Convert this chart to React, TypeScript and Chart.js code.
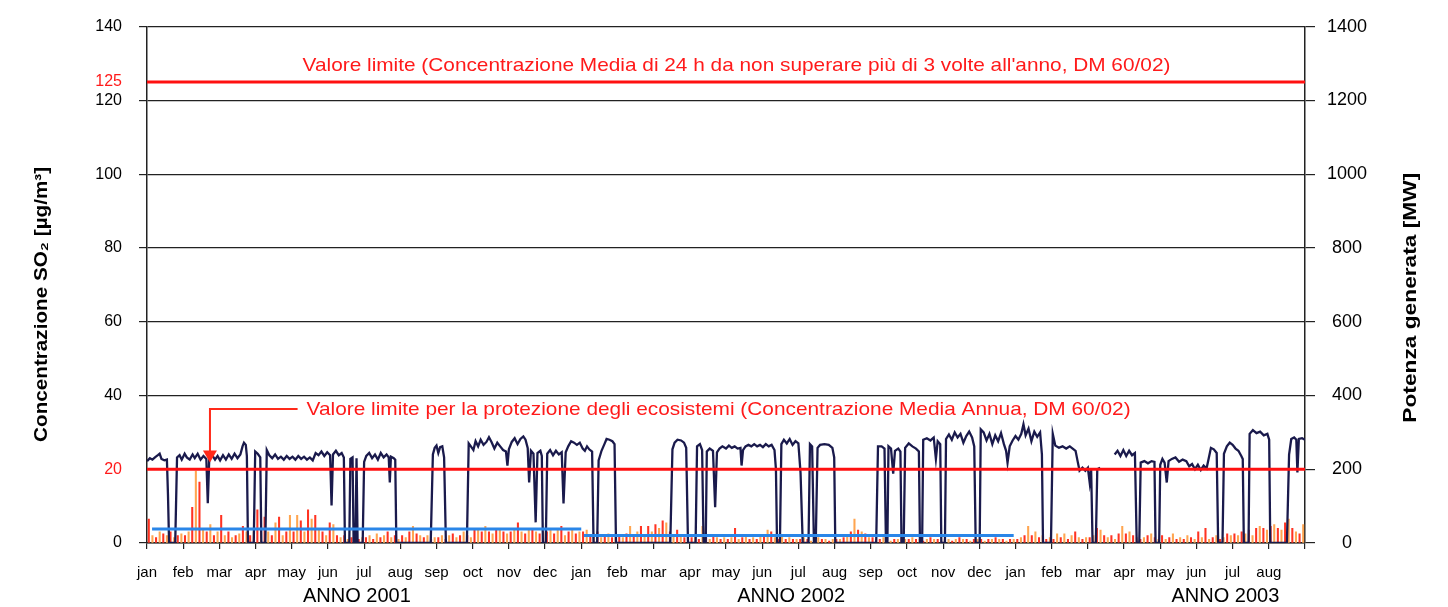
import React, { useEffect, useRef } from "react";
import { Chart, registerables } from "chart.js";

Chart.register(...registerables);

const FONT = 'Arial, "Liberation Sans", Helvetica, sans-serif';

// ---- axis / label data ----
const monthNames = ["jan", "feb", "mar", "apr", "may", "jun", "jul", "aug", "sep", "oct", "nov", "dec"];
const monthTickLabels = [...monthNames, ...monthNames, ...monthNames.slice(0, 8), ""];
const yearLabels = ["ANNO 2001", "ANNO 2002", "ANNO 2003"];
const yearLabelPositions = [5.8, 17.8, 29.8];
const so2Ticks = [0, 20, 40, 60, 80, 100, 120, 125, 140];
const powerTicks = [0, 200, 400, 600, 800, 1000, 1200, 1400];

// ---- reference values ----
const limit24h = 125;
const limitAnnual = 20;
const limit24hText =
  "Valore limite (Concentrazione Media di 24 h da non superare più di 3 volte all'anno, DM 60/02)";
const limitAnnualText =
  "Valore limite per la protezione degli ecosistemi (Concentrazione Media Annua, DM 60/02)";
const leftTitle = "Concentrazione SO₂ [µg/m³]";
const rightTitle = "Potenza generata [MW]";

// annotation spans in month units (start, end)
const limit24hTextSpan = [4.3, 28.28];
const limitAnnualTextSpan = [4.41, 27.18];

// annual mean SO2 (blue), per year: start month, end month, value
const annualMeanStart = [0.14, 12.07];
const annualMeanEnd = [12.0, 23.95];
const annualMeanValue = [3.8, 2.0];

// arrow annotation (month position, level, tip level) in data units
const arrowMonth = 1.74;
const arrowLevel = 36.3;
const arrowTipLevel = 21.8;

// ---- SO2 daily concentration (10 samples per month) ----
const so2Daily2001 = [
  6.5, 2, 1.5, 3, 2.5, 2, 3, 1.5, 2, 2.5,
  2, 3, 9.7, 19.5, 16.5, 4, 3, 5, 2, 3,
  7.5, 2, 3, 1.5, 2, 2.5, 4.5, 3, 2, 3,
  9, 11.5, 7, 3, 2, 5.5, 7, 2, 3, 7.5,
  3, 7.5, 6, 3, 9, 6.5, 7.5, 4, 3, 2,
  5.5, 5, 2, 1.5, 2, 1, 1.5, 2, 1, 1.5,
  1.5, 2, 1, 2.5, 1.5, 2, 3, 1.5, 2, 1,
  2, 1.5, 3, 4.5, 2.5, 2, 1.5, 2, 1, 1.5,
  1.5, 2, 1, 2, 2.5, 1.5, 2, 3, 2, 1.5,
  3.5, 4, 3, 4.5, 3, 2.5, 4, 3.5, 3, 2.5,
  3, 4, 5.5, 3, 2.5, 3.5, 4, 3, 2.5, 3,
  3, 4, 2.5, 3.5, 4.5, 2, 3, 3.5, 2.5, 3,
];
const so2Daily2002 = [
  3, 3.5, 2, 2.5, 3, 1.5, 2, 2.5, 1.5, 2,
  2, 1.5, 2.5, 4.5, 2, 3, 4.5, 2, 4.5, 3,
  5, 4, 6, 5.5, 3, 2, 3.5, 2, 1.5, 2,
  1.5, 2, 1, 4.5, 1.5, 1, 2, 1.5, 1, 1.5,
  1, 1.5, 4, 1, 1.5, 2, 1, 1.5, 1, 2,
  2, 3.5, 3, 1.5, 1, 2, 1, 1.5, 1, 1,
  1, 1.5, 1, 0.5, 1, 1.5, 1, 1, 0.5, 1,
  1, 1, 1.5, 2, 3, 6.5, 3.5, 3, 2.5, 1.5,
  1.5, 1, 1, 1.5, 1, 0.5, 1, 1, 1.5, 1,
  1, 1.5, 1, 1, 0.5, 1, 1.5, 1, 1, 0.5,
  1, 1, 0.5, 1, 1.5, 1, 1, 0.5, 1, 1,
  1, 0.5, 1, 1, 1.5, 1, 1, 0.5, 1, 1,
];
const so2Daily2003 = [
  1, 1.5, 2, 4.5, 2, 3, 1.5, 2, 1, 1.5,
  1, 2.5, 1.5, 2.5, 1, 2, 3, 1.5, 1, 1.5,
  1.5, 2, 4, 3.5, 2, 1.5, 2, 1, 2.5, 4.5,
  2.5, 3, 2, 1.5, 1, 1.5, 2, 2.5, 1.5, 1,
  2, 1, 1.5, 2.5, 1, 1.5, 1, 2, 1.5, 1,
  3, 1.5, 4, 1, 1.5, 2, 1, 1.5, 2.5, 2,
  2.5, 2, 3, 2.5, 3.5, 2, 4, 4.5, 4, 3.5,
  4.5, 5, 4, 3.5, 5.5, 6.5, 4, 3, 2.5, 5,
];
const so2SamplesPerMonth = 10;

// ---- generated power [month since jan 2001, MW] ----
const powerSeries: [number, number | null][] = [
  [0.0, 222], [0.08, 230], [0.15, 226], [0.22, 232], [0.3, 238], [0.35, 242], [0.4, 228], [0.48, 224], [0.55, 226],
  [0.58, 130], [0.61, 0], [0.78, 0], [0.83, 232],
  [0.9, 238], [0.96, 226], [1.04, 242], [1.1, 232], [1.18, 226], [1.26, 240], [1.32, 230], [1.4, 242], [1.48, 226],
  [1.56, 236], [1.64, 228], [1.68, 108], [1.72, 228], [1.8, 238], [1.88, 226], [1.95, 236],
  [2.02, 224], [2.1, 238], [2.18, 226], [2.26, 240], [2.34, 228], [2.42, 242], [2.5, 230], [2.58, 240], [2.64, 262],
  [2.68, 272], [2.73, 266], [2.76, 236], [2.79, 0], [2.95, 0], [2.99, 248], [3.06, 242], [3.13, 232], [3.16, 0],
  [3.27, 0], [3.31, 252],
  [3.38, 238], [3.46, 230], [3.54, 240], [3.62, 228], [3.7, 234], [3.78, 226], [3.86, 236], [3.94, 228], [4.02, 234],
  [4.1, 226], [4.18, 236], [4.26, 228], [4.34, 234], [4.42, 226], [4.5, 232], [4.58, 224],
  [4.66, 244], [4.74, 238], [4.82, 248], [4.9, 236], [4.98, 246], [5.06, 238], [5.1, 102], [5.14, 240], [5.22, 250],
  [5.3, 238], [5.38, 244], [5.44, 232], [5.47, 0], [5.59, 0], [5.62, 228], [5.68, 232], [5.71, 0], [5.76, 0],
  [5.79, 230], [5.82, 0], [5.96, 0],
  [6.0, 220], [6.06, 236], [6.14, 244], [6.22, 230], [6.3, 240], [6.38, 226], [6.46, 244], [6.54, 232], [6.62, 240],
  [6.68, 232], [6.71, 164], [6.74, 234], [6.82, 230], [6.86, 226], [6.89, 0],
  [7.84, 0], [7.9, 240], [7.95, 258], [8.0, 264], [8.05, 244], [8.1, 260], [8.16, 262], [8.21, 232], [8.26, 0],
  [8.84, 0], [8.89, 270], [8.95, 262], [9.02, 252], [9.08, 276], [9.15, 262], [9.22, 280], [9.3, 266], [9.38, 274],
  [9.45, 287], [9.52, 274], [9.6, 256], [9.68, 272], [9.76, 262], [9.84, 252], [9.92, 248], [9.96, 210], [10.0, 254],
  [10.08, 274], [10.16, 284], [10.24, 268], [10.32, 282], [10.4, 289], [10.46, 280], [10.52, 258], [10.56, 164],
  [10.61, 250], [10.68, 242], [10.74, 56], [10.79, 244], [10.87, 250], [10.91, 236], [10.94, 0], [11.02, 0],
  [11.06, 242], [11.14, 252], [11.22, 238], [11.3, 250], [11.38, 240], [11.46, 246], [11.51, 107], [11.57, 246],
  [11.64, 262], [11.72, 276], [11.8, 272], [11.88, 266], [11.96, 272],
  [12.04, 256], [12.1, 250], [12.16, 262], [12.22, 254], [12.3, 248], [12.34, 0], [12.44, 0], [12.48, 224],
  [12.56, 250], [12.64, 268], [12.7, 282], [12.78, 280], [12.86, 276], [12.92, 268], [12.96, 0],
  [14.46, 0], [14.52, 254], [14.58, 272], [14.66, 280], [14.76, 278], [14.84, 272], [14.9, 258], [14.95, 0],
  [15.16, 0], [15.2, 262], [15.28, 268], [15.34, 252], [15.38, 0], [15.44, 0], [15.47, 248], [15.55, 256],
  [15.64, 250], [15.7, 97], [15.75, 246], [15.82, 256],
  [15.9, 262], [16.0, 256], [16.08, 264], [16.16, 258], [16.24, 262], [16.32, 256], [16.4, 258], [16.43, 210],
  [16.47, 252], [16.54, 262], [16.62, 266], [16.7, 262], [16.78, 268], [16.86, 262], [16.94, 266], [17.02, 260],
  [17.1, 268], [17.18, 262], [17.26, 266], [17.34, 252], [17.38, 200], [17.41, 0], [17.49, 0], [17.53, 268],
  [17.6, 280], [17.68, 270], [17.76, 282], [17.84, 266], [17.92, 276], [18.0, 270], [18.06, 190], [18.12, 0],
  [18.28, 0], [18.32, 268], [18.38, 262], [18.43, 0], [18.48, 0], [18.53, 258], [18.6, 266], [18.72, 268],
  [18.84, 266], [18.94, 258], [18.99, 232], [19.02, 0],
  [20.15, 0], [20.2, 262], [20.3, 262], [20.38, 256], [20.42, 0], [20.46, 0], [20.49, 262], [20.56, 256],
  [20.62, 188], [20.67, 250], [20.76, 256], [20.82, 248], [20.85, 0], [20.91, 0], [20.95, 258], [21.05, 270],
  [21.15, 262], [21.25, 256], [21.33, 248], [21.36, 0], [21.42, 0], [21.45, 280], [21.55, 284], [21.65, 278],
  [21.74, 286], [21.8, 228], [21.85, 276], [21.92, 268], [21.95, 0], [22.05, 0], [22.08, 282], [22.16, 294],
  [22.24, 280], [22.32, 300], [22.4, 286], [22.48, 296], [22.56, 272], [22.64, 290], [22.72, 302], [22.8, 286],
  [22.86, 262], [22.9, 0], [23.01, 0], [23.04, 308], [23.12, 300], [23.2, 278], [23.28, 296], [23.36, 268],
  [23.44, 292], [23.52, 276], [23.6, 298], [23.68, 268], [23.74, 250], [23.78, 218], [23.84, 262], [23.92, 278],
  [24.0, 290], [24.08, 280], [24.16, 296], [24.22, 322], [24.28, 292], [24.36, 310], [24.44, 276], [24.52, 302],
  [24.6, 288], [24.68, 300], [24.73, 240], [24.76, 0], [24.98, 0], [25.03, 296], [25.1, 264], [25.2, 258],
  [25.3, 262], [25.4, 256], [25.5, 262], [25.58, 256], [25.66, 250], [25.72, 220], [25.77, 196], [25.85, 204],
  [25.93, 196], [26.0, 204], [26.05, 164], [26.09, 200], [26.13, 0], [26.22, 0], [26.26, 200], [26.34, 204],
  [26.4, null], [26.74, 240],
  [26.82, 250], [26.9, 236], [26.98, 252], [27.06, 236], [27.14, 250], [27.22, 238], [27.3, 244], [27.35, 0],
  [27.42, 0], [27.46, 218], [27.56, 222], [27.66, 216], [27.76, 222], [27.84, 220], [27.87, 0], [27.97, 0],
  [28.0, 212], [28.06, 228], [28.12, 218], [28.18, 164], [28.23, 222], [28.32, 228], [28.42, 232], [28.52, 220],
  [28.62, 226], [28.72, 222], [28.8, 208], [28.88, 214], [28.96, 200], [29.04, 212], [29.12, 198], [29.2, 210],
  [29.28, 202], [29.34, 230], [29.4, 258], [29.48, 254], [29.56, 244], [29.6, 0], [29.72, 0], [29.76, 242],
  [29.84, 262], [29.92, 272], [30.0, 266], [30.08, 256], [30.16, 250], [30.24, 236], [30.28, 228], [30.31, 0],
  [30.44, 0], [30.47, 296], [30.56, 306], [30.66, 298], [30.76, 302], [30.86, 292], [30.96, 296], [31.01, 280],
  [31.04, 0],
  [31.5, 0], [31.56, 240], [31.62, 282], [31.7, 286], [31.76, 280], [31.79, 191], [31.83, 282], [31.92, 284],
  [32.0, 280],
];

// draw text stretched/condensed along its direction so it covers a target length
function fitText(ctx: any, text: string, cx: number, cy: number, length: number, rotation: number, align: string) {
  const w = ctx.measureText(text).width;
  ctx.save();
  ctx.translate(cx, cy);
  ctx.rotate(rotation);
  ctx.scale(length / w, 1);
  ctx.textAlign = align;
  ctx.fillText(text, 0, 0);
  ctx.restore();
}

const overlayPlugin = {
  id: "overlay",
  afterDraw(chart: any) {
    const { ctx, chartArea, scales } = chart;
    const x = scales.x;
    const y = scales.y;
    ctx.save();
    ctx.textBaseline = "middle";

    // axis titles (both read bottom-to-top)
    ctx.fillStyle = "#000";
    ctx.font = `bold 18px ${FONT}`;
    const plotH = chartArea.bottom - chartArea.top;
    fitText(ctx, leftTitle, 42, chartArea.top + plotH * 0.538, 275, -Math.PI / 2, "center");
    fitText(ctx, rightTitle, 1411, chartArea.top + plotH * 0.525, 250, -Math.PI / 2, "center");

    // limit annotations
    ctx.fillStyle = "#ff1a1a";
    ctx.font = `19px ${FONT}`;
    const t0 = x.getPixelForValue(limit24hTextSpan[0]);
    const t1 = x.getPixelForValue(limit24hTextSpan[1]);
    fitText(ctx, limit24hText, t0, y.getPixelForValue(limit24h) - 16, t1 - t0, 0, "left");

    const ax = x.getPixelForValue(arrowMonth);
    const ay = y.getPixelForValue(arrowLevel);
    const tipY = y.getPixelForValue(arrowTipLevel);
    const l0 = x.getPixelForValue(limitAnnualTextSpan[0]);
    const l1 = x.getPixelForValue(limitAnnualTextSpan[1]);
    fitText(ctx, limitAnnualText, l0, ay + 1, l1 - l0, 0, "left");

    ctx.strokeStyle = "#ff2a1a";
    ctx.lineWidth = 2;
    ctx.beginPath();
    ctx.moveTo(l0 - 9, ay);
    ctx.lineTo(ax, ay);
    ctx.lineTo(ax, tipY - 10);
    ctx.stroke();
    ctx.fillStyle = "#ff2a1a";
    ctx.beginPath();
    ctx.moveTo(ax - 7, tipY - 12);
    ctx.lineTo(ax + 7, tipY - 12);
    ctx.lineTo(ax, tipY);
    ctx.closePath();
    ctx.fill();

    ctx.restore();
  },
};

export default function App() {
  const canvasRef = useRef<HTMLCanvasElement | null>(null);

  useEffect(() => {
    const canvas = canvasRef.current;
    if (!canvas) return;

    const so2All = [...so2Daily2001, ...so2Daily2002, ...so2Daily2003];
    const barData = so2All.map((v, i) => ({ x: (i + 0.5) / so2SamplesPerMonth, y: v }));
    const powerData = powerSeries.map(([t, v]) => ({ x: t, y: v }));
    const meanData: any[] = [];
    annualMeanValue.forEach((v, i) => {
      meanData.push({ x: annualMeanStart[i], y: v });
      meanData.push({ x: annualMeanEnd[i], y: v });
      if (i < annualMeanValue.length - 1) meanData.push({ x: (annualMeanEnd[i] + annualMeanStart[i + 1]) / 2, y: null });
    });

    const gridColor = "#222";
    const isSpecial = (v: number) => v === limit24h || v === limitAnnual;

    const chart = new Chart(canvas, {
      type: "bar",
      data: {
        datasets: [
          {
            type: "line",
            label: "limit24h",
            data: [{ x: 0, y: limit24h }, { x: 32, y: limit24h }],
            borderColor: "#ff1010",
            borderWidth: 3,
            pointRadius: 0,
            yAxisID: "y",
            order: 0,
          } as any,
          {
            type: "line",
            label: "limitAnnual",
            data: [{ x: 0, y: limitAnnual }, { x: 32, y: limitAnnual }],
            borderColor: "#ff1010",
            borderWidth: 3,
            pointRadius: 0,
            yAxisID: "y",
            order: 0,
          },
          {
            type: "line",
            label: "annualMean",
            data: meanData,
            borderColor: "#2a86e8",
            borderWidth: 3,
            pointRadius: 0,
            spanGaps: false,
            yAxisID: "y",
            order: 1,
          },
          {
            type: "line",
            label: "power",
            data: powerData,
            borderColor: "#1a1a4c",
            borderWidth: 2.3,
            pointRadius: 0,
            tension: 0,
            spanGaps: false,
            yAxisID: "y1",
            order: 2,
          },
          {
            type: "bar",
            label: "so2",
            data: barData,
            backgroundColor: (c: any) => (c.dataIndex % 2 ? "#ffa550" : "#ff3322"),
            barThickness: 1.4,
            yAxisID: "y",
            order: 3,
          },
        ],
      } as any,
      plugins: [overlayPlugin],
      options: {
        responsive: false,
        animation: false,
        devicePixelRatio: 1,
        layout: { padding: { top: 22, left: 0, right: 0, bottom: 0 } },
        plugins: { legend: { display: false }, tooltip: { enabled: false } },
        scales: {
          x: {
            type: "linear",
            position: "bottom",
            min: 0,
            max: 32,
            offset: false,
            weight: 0,
            afterBuildTicks: (s: any) => {
              s.ticks = monthTickLabels.map((_, i) => ({ value: i }));
            },
            afterFit: (s: any) => {
              s.height = 40;
            },
            ticks: {
              autoSkip: false,
              maxRotation: 0,
              padding: 15,
              color: "#000",
              font: { family: FONT, size: 15 },
              callback: (v: any) => monthTickLabels[Math.round(v)] ?? "",
            },
            grid: {
              offset: false,
              drawOnChartArea: false,
              drawTicks: true,
              tickLength: 6,
              color: gridColor,
              lineWidth: 1.2,
            },
            border: { display: true, color: gridColor, width: 1.5 },
          },
          x2: {
            type: "linear",
            position: "bottom",
            min: 0,
            max: 32,
            offset: false,
            weight: 1,
            afterBuildTicks: (s: any) => {
              s.ticks = yearLabelPositions.map((p) => ({ value: p }));
            },
            afterFit: (s: any) => {
              s.height = 24;
            },
            ticks: {
              autoSkip: false,
              maxRotation: 0,
              padding: 1,
              color: "#000",
              font: { family: FONT, size: 20 },
              callback: (_v: any, i: number) => yearLabels[i],
            },
            grid: { display: false, drawTicks: false, offset: false },
            border: { display: false },
          },
          y: {
            type: "linear",
            position: "left",
            min: 0,
            max: 140,
            afterBuildTicks: (s: any) => {
              s.ticks = so2Ticks.map((v) => ({ value: v }));
            },
            afterFit: (s: any) => {
              s.width = 147;
            },
            ticks: {
              padding: 17,
              font: { family: FONT, size: 16 },
              color: (c: any) => (c.tick && isSpecial(c.tick.value) ? "#ff1a1a" : "#000"),
              callback: (v: any) => String(v),
            },
            grid: {
              color: (c: any) => (c.tick && isSpecial(c.tick.value) ? "rgba(0,0,0,0)" : gridColor),
              lineWidth: 1.2,
              tickLength: 8,
            },
            border: { display: true, color: gridColor, width: 1.5 },
          },
          y1: {
            type: "linear",
            position: "right",
            min: 0,
            max: 1400,
            afterBuildTicks: (s: any) => {
              s.ticks = powerTicks.map((v) => ({ value: v }));
            },
            afterFit: (s: any) => {
              s.width = 143;
            },
            ticks: {
              padding: 12,
              crossAlign: "center",
              font: { family: FONT, size: 18 },
              color: "#000",
              callback: (v: any) => String(v),
            },
            grid: { drawOnChartArea: false, color: gridColor, lineWidth: 1.2, tickLength: 10 },
            border: { display: true, color: gridColor, width: 1.5 },
          },
        },
      } as any,
    });

    return () => chart.destroy();
  }, []);

  return (
    <div style={{ position: "absolute", left: 0, top: 0, width: 1448, height: 607, background: "#fff" }}>
      <canvas ref={canvasRef} width={1448} height={607} style={{ display: "block" }} />
    </div>
  );
}
